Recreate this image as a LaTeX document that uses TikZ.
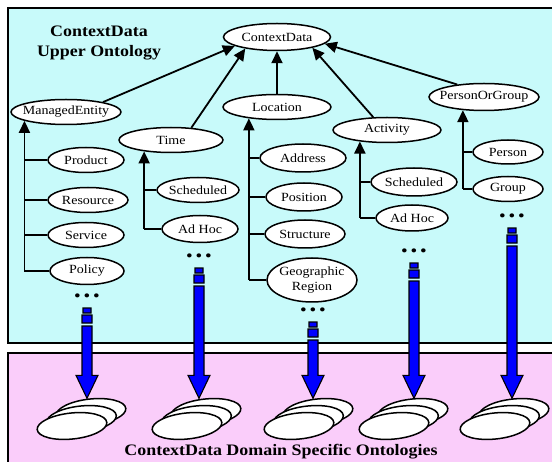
\documentclass[tikz,border=0pt]{standalone}
\usepackage{fontspec}
\setmainfont{Liberation Serif}[FakeStretch=1.12]
\usetikzlibrary{arrows.meta,shapes.geometric,calc}
\definecolor{upperbg}{RGB}{200,250,250}
\definecolor{lowerbg}{RGB}{250,205,250}

\begin{document}
\begin{tikzpicture}[
  x=1pt,y=-1pt,
  oval/.style={draw,ellipse,fill=white,line width=1.5pt,inner xsep=-30pt,inner ysep=-10pt,align=center,font=\fontsize{12.5}{15}\selectfont},
  head/.style={align=center,inner sep=0pt,font=\fontsize{16}{20}\selectfont\bfseries},
  link/.style={line width=1.8pt,-{Triangle[length=12pt,width=11pt]}},
  twig/.style={line width=1.8pt},
  dots/.style={inner sep=0pt,font=\fontsize{17}{17}\selectfont},
  onto/.style={draw,ellipse,fill=white,line width=1.5pt,inner sep=0pt,minimum width=70pt,minimum height=26pt,rotate=6},
  feed/.style={draw=black,fill=blue,line width=1.1pt,to path={
    let \p1=(\tikztostart.south), \p2=(\tikztotarget.north) in
    (\x1-4pt,\y1-6pt) rectangle (\x1+4pt,\y1-11pt)
    (\x1-5pt,\y1-13pt) rectangle (\x1+5pt,\y1-21pt)
    (\x1-5pt,\y1-24pt) -- (\x1+5pt,\y1-24pt) -- (\x1+5pt,\y2+23pt) -- (\x1+11pt,\y2+23pt)
    -- (\x1,\y2) -- (\x1-11pt,\y2+23pt) -- (\x1-5pt,\y2+23pt) -- cycle}}
]
\useasboundingbox (0,0) rectangle (552,462);

% panels
\fill[upperbg] (8,8) rectangle (570,343);
\draw[line width=1.8pt] (570,8) -- (8,8) -- (8,343) -- (570,343);
\fill[lowerbg] (8,353) rectangle (570,480);
\draw[line width=1.8pt] (570,353) -- (8,353) -- (8,480);

\node[head] (upper) at (99,43) {ContextData\\Upper Ontology};
\node[head] (lower) at (281,452) {ContextData Domain Specific Ontologies};

% upper ontology
\node[oval,minimum width=107pt,minimum height=27pt] (cd) at (277,37) {ContextData};
\node[oval,minimum width=110pt,minimum height=25pt] (me) at (66,112) {ManagedEntity};
\node[oval,minimum width=104pt,minimum height=25pt] (time) at (171,140) {Time};
\node[oval,minimum width=108pt,minimum height=25pt] (loc) at (277,107) {Location};
\node[oval,minimum width=108pt,minimum height=25pt] (act) at (387,130) {Activity};
\node[oval,minimum width=110pt,minimum height=27pt] (pog) at (484,97) {PersonOrGroup};

\draw[link] (me.15) -- (cd.192);
\draw[link] (time.31) -- (cd.200);
\draw[link] (loc) -- (cd);
\draw[link] (act.137) -- (cd.-17);
\draw[link] (pog.155) -- (cd.-8);

% managed entity
\node[oval,minimum width=76pt,minimum height=25pt] (product) at (86,160) {Product};
\node[oval,minimum width=80pt,minimum height=25pt] (resource) at (88,200) {Resource};
\node[oval,minimum width=76pt,minimum height=25pt] (service) at (86,235) {Service};
\node[oval,minimum width=74pt,minimum height=27pt] (policy) at (87,271) {Policy};
\foreach \c in {product,resource,service,policy}
  \draw[twig] (\c.west) -- (\c.west -| me.192);
\draw[link] (policy.west -| me.192) -- (me.192);

% time
\node[oval,minimum width=82pt,minimum height=25pt] (tsched) at (198,190) {Scheduled};
\node[oval,minimum width=76pt,minimum height=27pt] (tadhoc) at (200,229) {Ad Hoc};
\foreach \c in {tsched,tadhoc}
  \draw[twig] (\c.west) -- (\c.west -| time.203);
\draw[link] (tadhoc.west -| time.203) -- (time.203);

% location
\node[oval,minimum width=86pt,minimum height=28pt] (address) at (303,158) {Address};
\node[oval,minimum width=76pt,minimum height=28pt] (position) at (304,197) {Position};
\node[oval,minimum width=80pt,minimum height=28pt] (structure) at (305,234) {Structure};
\node[oval,minimum width=90pt,minimum height=44pt] (georegion) at (312,280) {Geographic\\Region};
\foreach \c in {address,position,structure,georegion}
  \draw[twig] (\c.west) -- (\c.west -| loc.202);
\draw[link] (georegion.west -| loc.202) -- (loc.202);

% activity
\node[oval,minimum width=86pt,minimum height=28pt] (asched) at (414,182) {Scheduled};
\node[oval,minimum width=72pt,minimum height=26pt] (aadhoc) at (412,218) {Ad Hoc};
\foreach \c in {asched,aadhoc}
  \draw[twig] (\c.west) -- (\c.west -| act.203);
\draw[link] (aadhoc.west -| act.203) -- (act.203);

% person or group
\node[oval,minimum width=70pt,minimum height=24pt] (person) at (508,152) {Person};
\node[oval,minimum width=70pt,minimum height=25pt] (group) at (508,189) {Group};
\foreach \c in {person,group}
  \draw[twig] (\c.west) -- (\c.west -| pog.212);
\draw[link] (group.west -| pog.212) -- (pog.212);

% continuation dots
\node[dots] (d1) at (87,298) {\textbullet\,\textbullet\,\textbullet};
\node[dots] (d2) at (199,258) {\textbullet\,\textbullet\,\textbullet};
\node[dots] (d3) at (313,312) {\textbullet\,\textbullet\,\textbullet};
\node[dots] (d4) at (414,253) {\textbullet\,\textbullet\,\textbullet};
\node[dots] (d5) at (512,218) {\textbullet\,\textbullet\,\textbullet};

% domain specific stacks
\node[onto] (k1a) at (91,412) {};
\node[onto] (k1b) at (81.5,419) {};
\node[onto] (k1c) at (72,426) {};
\node[onto] (k2a) at (206,412) {};
\node[onto] (k2b) at (196.5,419) {};
\node[onto] (k2c) at (187,426) {};
\node[onto] (k3a) at (318,412) {};
\node[onto] (k3b) at (308.5,419) {};
\node[onto] (k3c) at (299,426) {};
\node[onto] (k4a) at (413,412) {};
\node[onto] (k4b) at (403.5,419) {};
\node[onto] (k4c) at (394,426) {};
\node[onto] (k5a) at (514,412) {};
\node[onto] (k5b) at (504.5,419) {};
\node[onto] (k5c) at (495,426) {};

\draw[feed] (d1) to (k1a);
\draw[feed] (d2) to (k2a);
\draw[feed] (d3) to (k3a);
\draw[feed] (d4) to (k4a);
\draw[feed] (d5) to (k5a);
\end{tikzpicture}
\end{document}
